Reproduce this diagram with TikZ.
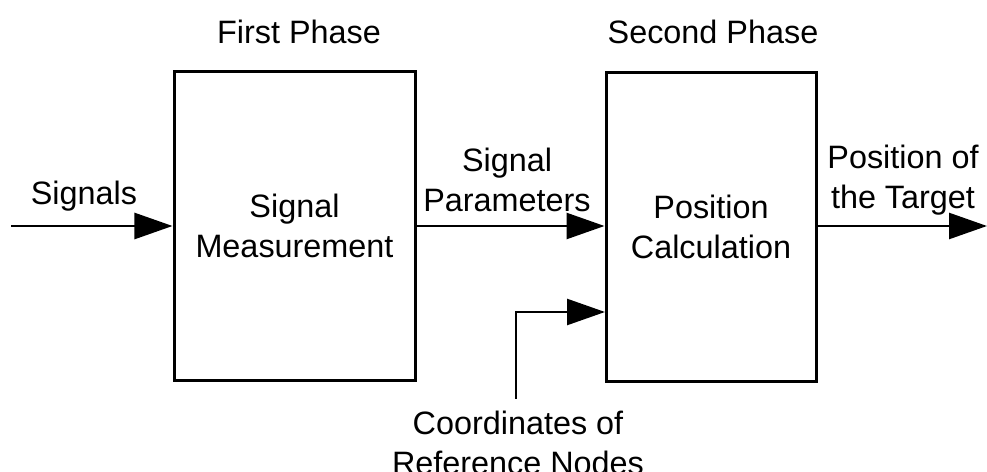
\documentclass[tikz,border=0pt]{standalone}
\usepackage{fontspec}
\setmainfont{Liberation Sans}
\usetikzlibrary{arrows.meta}
\begin{document}
\begin{tikzpicture}[x=1bp,y=-1bp,
  block/.style={draw,line width=3bp,minimum width=241bp,minimum height=308bp,align=center,inner sep=0pt,font=\fontsize{32.5}{39.5}\selectfont},
  lbl/.style={align=center,inner sep=0pt,font=\fontsize{32.5}{39.5}\selectfont},
  arr/.style={line width=2.6bp,-{Triangle[length=38bp,width=26bp]}}]
\useasboundingbox (0,0) rectangle (987,472);
\node[block] (b1) at (294.5,226) {Signal\\Measurement};
\node[block,minimum width=210bp] (b2) at (711,227) {Position\\Calculation};
\node[lbl] (t1) at (299,32) {First Phase};
\node[lbl] (t2) at (713,32) {Second Phase};
\node[lbl] (ls) at (84,196) {Signals};
\node[lbl] (lp) at (507,180) {Signal\\Parameters};
\node[lbl] (lo) at (903,180) {Position of\\the Target};
\node[lbl] (lc) at (518,443) {Coordinates of\\Reference Nodes};
\coordinate (s) at (11,226);
\coordinate (o) at (987,226);
\coordinate (c) at (516,399);
\coordinate (cin) at (605,312);
\draw[arr] (s) -- (s -| b1.west);
\draw[arr] (b1.east |- s) -- (b2.west |- s);
\draw[arr] (b2.east |- s) -- (o);
\draw[arr] (c) |- (cin);
\end{tikzpicture}
\end{document}
